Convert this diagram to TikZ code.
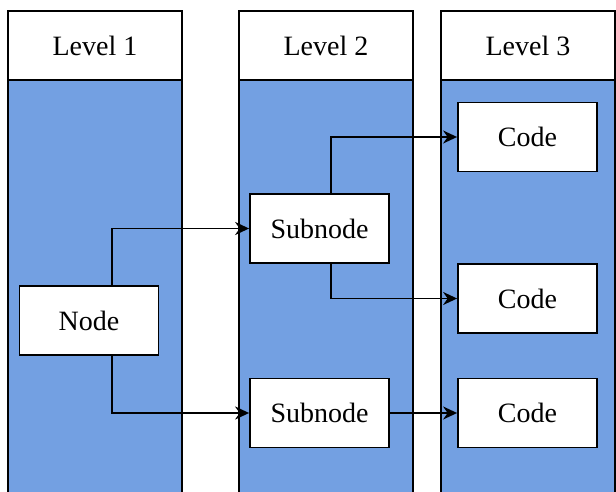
\documentclass[tikz,border=0pt]{standalone}
\usepackage{fontspec}
\setmainfont{Liberation Serif}
\usepackage{tikz}
\usetikzlibrary{positioning,arrows.meta}

\definecolor{levelblue}{RGB}{115,160,226}

\begin{document}
\begin{tikzpicture}[x=0.5pt, y=-0.5pt, line width=0.9pt,
    >={Stealth[length=7pt,width=6.5pt]},
    header/.style={draw, fill=white, minimum width=87pt, minimum height=34.5pt,
      inner sep=0pt, font=\fontsize{14}{16}\selectfont},
    box/.style={draw, fill=white, minimum width=69.5pt, minimum height=34.5pt,
      inner sep=0pt, font=\fontsize{14}{16}\selectfont}]
  \useasboundingbox (0, 0) rectangle (616, 492);
  % columns
  \draw[fill=levelblue] (8, 80) rectangle (182, 520);
  \draw[fill=levelblue] (239, 80) rectangle (413, 520);
  \draw[fill=levelblue] (441, 80) rectangle (615, 520);
  \node[header] (levelOne) at (95, 45.5) {Level 1};
  \node[header] (levelTwo) at (326, 45.5) {Level 2};
  \node[header] (levelThree) at (528, 45.5) {Level 3};
  % boxes
  \node[box] (node) at (89, 320.5) {Node};
  \node[box] (subnodeA) at (319.5, 228.5) {Subnode};
  \node[box] (subnodeB) at (319.5, 413) {Subnode};
  \node[box] (codeA) at (527.5, 137) {Code};
  \node[box] (codeB) at (527.5, 298.5) {Code};
  \node[box] (codeC) at (527.5, 413) {Code};
  % links
  \draw[->] ([xshift=11.5pt]node.north) |- (subnodeA.west);
  \draw[->] ([xshift=11.5pt]node.south) |- (subnodeB.west);
  \draw[->] ([xshift=5.75pt]subnodeA.north) |- (codeA.west);
  \draw[->] ([xshift=5.75pt]subnodeA.south) |- (codeB.west);
  \draw[->] (subnodeB) -- (codeC);
\end{tikzpicture}
\end{document}
